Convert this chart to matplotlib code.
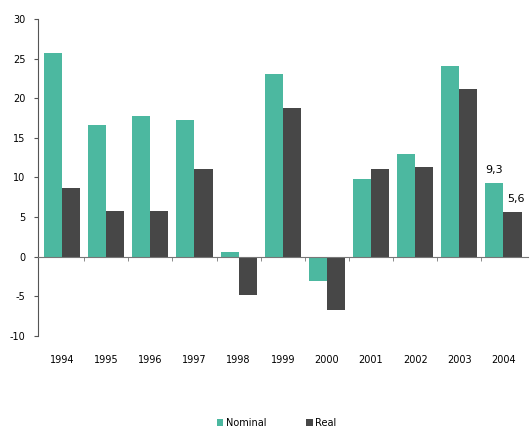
import numpy as np
import matplotlib.pyplot as plt
from matplotlib.transforms import blended_transform_factory

plt.rcParams['font.family'] = ['Liberation Sans Narrow', 'DejaVu Sans']
plt.rcParams['axes.unicode_minus'] = False

years = ['1994', '1995', '1996', '1997', '1998', '1999', '2000', '2001', '2002', '2003', '2004']
nominal = [25.7, 16.6, 17.7, 17.3, 0.6, 23.1, -3.1, 9.8, 12.9, 24.1, 9.3]
real = [8.6, 5.7, 5.8, 11.1, -4.8, 18.7, -6.7, 11.1, 11.3, 21.2, 5.6]

teal = '#4cb8a0'
dark = '#474747'

fig = plt.figure(figsize=(5.32, 4.29), dpi=100)
ax = fig.add_axes([0.071, 0.217, 0.921, 0.739])

x = np.arange(len(years))
w = 0.41
ax.bar(x - w / 2, nominal, w, color=teal, label='Nominal')
ax.bar(x + w / 2, real, w, color=dark, label='Real')

ax.set_xlim(-0.55, len(years) - 0.45)
ax.set_ylim(-10, 30)
ax.set_yticks(np.arange(-10, 31, 5))
ax.tick_params(axis='y', length=3, width=0.8, labelsize=7, pad=6, color='#555555')

# category axis sits on the zero line, year labels below the plot
ax.spines['bottom'].set_position(('data', 0))
ax.spines['bottom'].set_color('#777777')
ax.spines['left'].set_color('#555555')
ax.spines['top'].set_visible(False)
ax.spines['right'].set_visible(False)
ax.set_xticks(x[:-1] + 0.5)
ax.set_xticklabels([])
ax.tick_params(axis='x', length=3, width=0.6, direction='out', color='#777777')

tr = blended_transform_factory(ax.transData, ax.transAxes)
for xi, yr in zip(x, years):
    ax.text(xi, -0.075, yr, transform=tr, ha='center', va='center', fontsize=7)

# value labels on the last year
ax.text(x[-1] - w / 2, nominal[-1] + 1.0, '9,3', ha='center', va='bottom', fontsize=8)
ax.text(x[-1] + w / 2 + 0.08, real[-1] + 1.0, '5,6', ha='center', va='bottom', fontsize=8)

fig.legend(loc='center', bbox_to_anchor=(0.52, 0.015), ncol=2, frameon=False,
           fontsize=7, handlelength=0.7, handleheight=0.7, columnspacing=4.0, handletextpad=0.3)

fig.savefig('out.png', dpi=100)
